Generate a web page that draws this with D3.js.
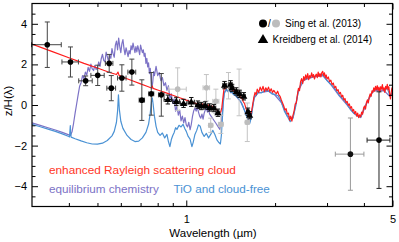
<!DOCTYPE html>
<html><head><meta charset="utf-8">
<script src="https://cdn.jsdelivr.net/npm/d3@7"></script>
<style>
html,body{margin:0;padding:0;background:#fff;}
svg{display:block;font-family:"Liberation Sans",Arial,Helvetica,sans-serif;}
</style></head><body>
<svg id="chart" width="399" height="242"></svg>
<script>
// ---------------- DATA ----------------
// model spectra: [wavelength (µm), z/H]
const redModel = [[0.30,3.00],[0.35,2.64],[0.40,2.33],[0.45,2.05],[0.50,1.82],[0.55,1.60],[0.58,1.50],[0.587,1.62],[0.592,1.46],[0.62,1.33],[0.66,1.18],[0.70,1.04],[0.74,0.91],[0.762,0.84],[0.767,0.93],[0.772,0.82],[0.80,0.74],[0.85,0.61],[0.90,0.48],[0.95,0.36],[1.00,0.24],[1.05,0.13],[1.08,0.07],
[1.10,0.04],[1.115,-0.06],[1.13,0.06],[1.145,-0.03],[1.16,0.05],[1.175,-0.08],[1.19,0.00],[1.205,-0.12],[1.22,-0.04],[1.235,-0.16],[1.25,-0.10],[1.265,-0.24],[1.28,-0.30],[1.295,-0.40],[1.31,-0.34],[1.32,-0.12],[1.33,0.30],[1.34,0.72],[1.35,0.95],[1.36,0.80],[1.37,1.02],[1.38,0.88],[1.39,1.05],[1.40,0.85],[1.41,0.98],[1.42,0.80],[1.43,0.90],[1.44,0.70],[1.455,0.78],[1.47,0.60],[1.485,0.66],[1.50,0.48],[1.515,0.52],[1.53,0.34],[1.545,0.38],[1.56,0.16],[1.575,0.08],[1.59,-0.12],[1.605,-0.28],[1.62,-0.42],[1.635,-0.58],[1.65,-0.52],[1.665,-0.30],[1.68,0.05],[1.695,0.38],[1.71,0.62],[1.725,0.50],[1.74,0.78],[1.76,0.62],[1.78,0.88],[1.80,0.70],[1.82,0.92],[1.84,0.66],[1.86,0.85],[1.88,0.72],[1.90,0.88],[1.92,0.66],[1.94,0.80],[1.96,0.62],[1.98,0.72],[2.00,0.62],[2.02,0.55],[2.04,0.68],[2.06,0.50],[2.08,0.42],[2.10,0.25],[2.12,0.10],[2.14,-0.05],[2.16,-0.25],[2.18,-0.18],[2.20,-0.45],[2.22,-0.40],[2.24,-0.75],[2.26,-0.55],[2.28,-0.80],[2.30,-0.50],[2.32,-0.30],[2.34,0.05],[2.36,0.10],[2.38,0.50],[2.40,0.82],[2.42,0.70],[2.44,1.15],[2.46,1.30],[2.48,1.05],[2.50,1.40],[2.52,1.22],[2.54,1.48],[2.56,1.30],[2.58,1.55],[2.60,1.25],[2.62,1.45],[2.64,1.35],[2.66,1.58],[2.68,1.38],[2.70,1.50],[2.72,1.28],[2.74,1.45],[2.76,1.52],[2.78,1.35],[2.80,1.62],[2.82,1.40],[2.84,1.55],[2.86,1.38],[2.88,1.60],[2.90,1.66],[2.92,1.45],[2.94,1.58],[2.96,1.35],[2.98,1.48],[3.00,1.28],[3.03,1.38],[3.06,1.15],[3.09,1.22],[3.12,1.00],[3.15,1.08],[3.18,0.85],[3.21,0.92],[3.24,0.70],[3.27,0.76],[3.30,0.55],[3.33,0.62],[3.36,0.40],[3.39,0.48],[3.42,0.25],[3.45,0.32],[3.48,0.12],[3.51,0.18],[3.54,-0.02],[3.57,0.05],[3.60,-0.15],[3.63,-0.08],[3.66,-0.30],[3.69,-0.22],[3.72,-0.42],[3.75,-0.32],[3.78,-0.55],[3.81,-0.40],[3.84,-0.62],[3.87,-0.48],[3.90,-0.58],[3.93,-0.35],[3.96,-0.45],[3.99,-0.15],[4.02,-0.05],[4.05,-0.20],[4.08,0.12],[4.11,0.25],[4.14,0.10],[4.17,0.40],[4.20,0.55],[4.23,0.42],[4.26,0.70],[4.29,0.62],[4.32,0.85],[4.35,0.68],[4.38,0.92],[4.41,0.75],[4.44,0.95],[4.47,0.72],[4.50,0.88],[4.53,0.65],[4.56,0.90],[4.59,0.78],[4.62,1.00],[4.65,0.72],[4.68,0.85],[4.71,0.62],[4.74,0.92],[4.77,0.80],[4.80,1.02],[4.83,0.75],[4.86,0.90],[4.89,0.55],[4.92,0.30],[4.95,0.62],[4.98,0.85],[5.00,0.70]];

const blueModel = [[0.30,-0.95],[0.32,-1.07],[0.34,-1.19],[0.36,-1.30],[0.38,-1.42],[0.40,-1.55],[0.402,-1.57],[0.4035,-1.25],[0.4045,-1.02],[0.4055,-1.30],[0.407,-1.58],[0.42,-1.66],[0.44,-1.77],[0.46,-1.86],[0.48,-1.92],[0.50,-1.93],[0.52,-1.88],[0.54,-1.75],[0.56,-1.52],[0.57,-1.30],[0.58,-0.85],[0.585,-0.30],[0.589,0.50],[0.593,-0.20],[0.60,-0.80],[0.61,-1.15],[0.63,-1.50],[0.65,-1.70],[0.67,-1.80],[0.69,-1.78],[0.71,-1.62],[0.73,-1.35],[0.745,-0.95],[0.755,-0.40],[0.762,0.15],[0.767,0.35],[0.772,0.05],[0.78,-0.55],[0.79,-1.05],[0.80,-1.35],[0.815,-1.50],[0.83,-1.38],[0.845,-1.62],[0.86,-1.45],[0.87,-1.80],[0.88,-2.05],[0.89,-1.70],[0.90,-1.50],[0.91,-1.35],[0.92,-1.12],[0.93,-1.20],[0.945,-1.00],[0.96,-1.08],[0.975,-0.95],[0.99,-1.18],[1.00,-1.30],[1.015,-1.55],[1.03,-1.68],[1.045,-2.05],[1.055,-1.85],[1.07,-1.45],[1.085,-1.25],[1.10,-0.98],[1.115,-1.05],[1.13,-1.35],[1.15,-1.55],[1.17,-1.40],[1.19,-1.62],[1.21,-1.45],[1.23,-1.25],[1.25,-1.45],[1.27,-1.72],[1.29,-1.85],[1.305,-1.92],[1.315,-1.50],[1.325,-0.70],[1.335,0.10],[1.345,0.55],[1.355,0.68],[1.37,0.78],[1.385,0.65],[1.40,0.72],[1.415,0.60],[1.43,0.68],[1.445,0.50],[1.46,0.55],[1.48,0.40],[1.50,0.35],[1.52,0.22],[1.54,0.10],[1.56,-0.10],[1.58,-0.32],[1.60,-0.55],[1.62,-0.75],[1.64,-0.92],[1.655,-0.70],[1.67,-0.35],[1.685,0.05],[1.70,0.40],[1.72,0.45],[1.75,0.62],[1.80,0.60],[1.85,0.72],[1.90,0.70],[1.95,0.55],[2.00,0.52],[2.05,0.45],[2.10,0.15],[2.15,-0.30],[2.20,-0.55],[2.25,-0.82],[2.30,-0.62],[2.35,-0.05],[2.40,0.72],[2.45,1.05],[2.50,1.25],[2.60,1.35],[2.70,1.40],[2.80,1.45],[2.90,1.50],[3.00,1.20],[3.10,1.00],[3.20,0.78],[3.30,0.48],[3.40,0.30],[3.50,0.05],[3.60,-0.22],[3.70,-0.40],[3.80,-0.55],[3.90,-0.60],[4.00,-0.20],[4.10,0.15],[4.20,0.45],[4.30,0.70],[4.40,0.78],[4.50,0.75],[4.60,0.82],[4.70,0.70],[4.80,0.85],[4.90,0.45],[5.00,0.62]];

const purpleModel = [[0.30,-0.88],[0.32,-1.00],[0.34,-1.12],[0.36,-1.23],[0.38,-1.35],[0.40,-1.47],[0.405,-1.50],[0.41,-1.32],[0.415,-0.90],[0.42,-0.40],[0.425,0.05],[0.43,0.50],[0.435,0.92],[0.44,1.10],[0.445,1.45],[0.45,1.30],[0.455,1.62],[0.46,1.48],[0.465,1.85],[0.47,1.66],[0.475,2.02],[0.48,1.78],[0.485,1.70],[0.49,1.95],[0.495,1.75],[0.50,1.84],[0.505,2.12],[0.51,1.90],[0.515,2.28],[0.52,2.50],[0.525,2.20],[0.53,2.12],[0.535,2.60],[0.54,2.38],[0.545,2.15],[0.55,2.45],[0.555,2.30],[0.56,2.78],[0.565,2.52],[0.57,2.35],[0.575,2.95],[0.58,3.15],[0.585,2.72],[0.59,3.30],[0.595,2.88],[0.60,2.58],[0.605,3.02],[0.61,3.22],[0.615,2.78],[0.62,2.48],[0.625,2.82],[0.63,2.62],[0.635,2.38],[0.64,2.68],[0.645,2.52],[0.65,2.92],[0.655,2.72],[0.66,3.05],[0.665,2.82],[0.67,2.58],[0.675,2.88],[0.68,2.62],[0.685,2.92],[0.69,2.72],[0.695,2.48],[0.70,2.95],[0.705,2.75],[0.71,2.58],[0.715,2.72],[0.72,2.40],[0.725,2.55],[0.73,2.05],[0.735,2.30],[0.74,1.88],[0.745,2.08],[0.75,1.55],[0.755,1.80],[0.76,1.30],[0.765,0.80],[0.77,1.15],[0.775,1.65],[0.78,1.45],[0.79,1.90],[0.80,1.45],[0.81,1.60],[0.82,1.20],[0.83,1.35],[0.84,0.95],[0.85,1.10],[0.86,0.72],[0.87,0.95],[0.88,0.30],[0.89,0.55],[0.90,0.08],[0.91,0.30],[0.92,-0.30],[0.93,-0.05],[0.94,-0.50],[0.95,-0.25],[0.96,-0.78],[0.97,-0.55],[0.98,-0.88],[0.99,-0.62],[1.00,-0.98],[1.01,-1.08],[1.02,-0.85],[1.03,-1.22],[1.04,-0.95],[1.05,-0.55],[1.06,-0.28],[1.07,-0.15],[1.08,-0.30],[1.09,-0.10],[1.10,-0.35],[1.11,-0.55],[1.12,-0.65],[1.13,-0.45],[1.14,-0.70],[1.15,-0.40],[1.16,-0.25],[1.17,-0.15],[1.18,-0.35],[1.19,-0.20],[1.20,-0.45],[1.22,-0.60],[1.24,-0.75],[1.26,-0.90],[1.28,-1.05],[1.30,-1.20],[1.315,-0.90],[1.325,-0.40],[1.335,0.25],[1.345,0.60],[1.36,0.72],[1.38,0.70],[1.40,0.76],[1.42,0.62],[1.44,0.58],[1.46,0.50],[1.48,0.42],[1.50,0.30],[1.53,0.15],[1.56,-0.12],[1.59,-0.40],[1.62,-0.70],[1.64,-0.85],[1.66,-0.55],[1.68,-0.05],[1.70,0.35],[1.75,0.60],[1.80,0.62],[1.90,0.68],[2.00,0.48],[2.10,0.12],[2.20,-0.55],[2.30,-0.65],[2.40,0.70],[2.50,1.22],[2.70,1.38],[2.90,1.45],[3.10,0.98],[3.30,0.45],[3.50,0.02],[3.70,-0.42],[3.90,-0.62],[4.10,0.12],[4.30,0.68],[4.50,0.72],[4.70,0.68],[4.90,0.42],[5.00,0.60]];

// observations: [wavelength, half-width, z/H, error]
const singBlack = [[0.338,0.039,2.97,1.12],[0.405,0.026,2.12,0.74],[0.456,0.024,1.19,0.24],[0.501,0.026,1.46,0.50],[0.548,0.016,2.05,0.44],[0.557,0.019,0.83,0.62],[0.605,0.020,1.33,0.65],[0.654,0.020,1.62,0.64],[0.707,0.015,0.24,1.00],[0.761,0.015,0.55,1.05],[0.823,0.018,0.50,1.05]];
const singGray = [[0.935,0.065,0.78,1.05],[1.17,0.030,0.85,0.65],[1.21,0.020,-1.00,0.35],[1.26,0.030,0.18,0.60],[1.31,0.025,-0.95,0.45],[1.39,0.025,0.95,0.65],[1.51,0.025,0.62,1.15],[1.61,0.025,-0.85,0.95]];
const kreidberg = [[0.866,0.025,0.27,0.22],[0.925,0.025,0.18,0.20],[0.979,0.025,0.08,0.20],[1.04,0.025,0.15,0.22],[1.095,0.018,0.02,0.18],[1.124,0.018,-0.05,0.18],[1.16,0.018,-0.02,0.18],[1.20,0.018,-0.12,0.18],[1.24,0.018,-0.15,0.18],[1.28,0.018,-0.38,0.18],[1.348,0.018,0.98,0.18],[1.413,0.018,1.02,0.18],[1.43,0.018,0.84,0.18],[1.477,0.018,0.67,0.18],[1.516,0.018,0.55,0.18],[1.567,0.018,0.43,0.18],[1.618,0.018,-0.33,0.18],[1.64,0.018,-0.50,0.18]];
const spitzer36 = [[3.6,0.4,-2.42,1.78]];
const spitzer45 = [[4.5,0.4,-1.73,2.38]];

const xMajorTicks = [1,5];
const xMinorTicks = [0.4,0.5,0.6,0.7,0.8,0.9,2,3,4];
const yMajorTicks = [-4,-2,0,2,4];
const yMinorTicks = [-4.5,-3.5,-3,-2.5,-1.5,-1,-0.5,0.5,1,1.5,2.5,3,3.5,4.5];

// ---------------- CHART ----------------
const svg = d3.select("#chart");
const m = {left:32, right:392.5, top:3.5, bottom:206.5};
const x = d3.scaleLog().domain([0.3,5]).range([m.left,m.right]);
const y = d3.scaleLinear().domain([-5,5]).range([m.bottom,m.top]);

const colRed = "#ff1c1c", colBlue = "#4a92d4", colPurple = "#7c72c6";

svg.append("clipPath").attr("id","clip").append("rect")
  .attr("x",m.left).attr("y",m.top).attr("width",m.right-m.left).attr("height",m.bottom-m.top);

const line = d3.line().x(d=>x(d[0])).y(d=>y(d[1]));
const lines = svg.append("g").attr("clip-path","url(#clip)");
[[purpleModel,colPurple],[blueModel,colBlue],[redModel,colRed]].forEach(([data,c])=>{
  lines.append("path").datum(data).attr("d",line)
    .attr("fill","none").attr("stroke",c).attr("stroke-width",1.2).attr("stroke-linejoin","round");
});

function errorBars(data, barColor, cap){
  const g = svg.append("g").attr("stroke",barColor).attr("stroke-width",1).attr("fill","none");
  data.forEach(d=>{
    const cx = x(d[0]), cy = y(d[2]);
    const x0 = x(d[0]-d[1]), x1 = x(d[0]+d[1]);
    const y0 = y(d[2]-d[3]), y1 = y(d[2]+d[3]);
    g.append("line").attr("x1",cx).attr("x2",cx).attr("y1",y0).attr("y2",y1);
    g.append("line").attr("x1",cx-cap).attr("x2",cx+cap).attr("y1",y0).attr("y2",y0);
    g.append("line").attr("x1",cx-cap).attr("x2",cx+cap).attr("y1",y1).attr("y2",y1);
    g.append("line").attr("x1",x0).attr("x2",x1).attr("y1",cy).attr("y2",cy);
    g.append("line").attr("x1",x0).attr("x2",x0).attr("y1",cy-cap).attr("y2",cy+cap);
    g.append("line").attr("x1",x1).attr("x2",x1).attr("y1",cy-cap).attr("y2",cy+cap);
  });
}

// gray points
errorBars(singGray, "#c4c4c4", 2.5);
svg.append("g").selectAll("circle").data(singGray).join("circle")
  .attr("cx",d=>x(d[0])).attr("cy",d=>y(d[2])).attr("r",2.8).attr("fill","#bdbdbd");
errorBars(spitzer36, "#999999", 2.5);
svg.append("g").selectAll("circle").data(spitzer36).join("circle")
  .attr("cx",d=>x(d[0])).attr("cy",d=>y(d[2])).attr("r",2.8).attr("fill","#111");

// black points
errorBars(singBlack, "#444", 2.5);
svg.append("g").selectAll("circle").data(singBlack).join("circle")
  .attr("cx",d=>x(d[0])).attr("cy",d=>y(d[2])).attr("r",2.8).attr("fill","#000");
errorBars(spitzer45, "#222", 2.5);
svg.append("g").selectAll("circle").data(spitzer45).join("circle")
  .attr("cx",d=>x(d[0])).attr("cy",d=>y(d[2])).attr("r",2.8).attr("fill","#000");

// triangles
errorBars(kreidberg, "#111", 2.2);
const tri = d3.symbol(d3.symbolTriangle).size(22);
svg.append("g").selectAll("path").data(kreidberg).join("path")
  .attr("d",tri).attr("transform",d=>`translate(${x(d[0])},${y(d[2])+0.5})`).attr("fill","#000");

// axes
const fmt = d3.format("d");
function styleAxis(g){ g.select(".domain").remove(); g.selectAll("line").attr("stroke","#000"); g.selectAll("text").attr("font-size","11px").attr("fill","#000").style("font-family",'"Liberation Sans",Arial,sans-serif'); }
svg.append("g").attr("transform",`translate(0,${m.bottom})`)
  .call(d3.axisBottom(x).tickValues(xMajorTicks).tickSize(-6).tickPadding(9).tickFormat(fmt)).call(styleAxis);
svg.append("g").attr("transform",`translate(0,${m.bottom})`)
  .call(d3.axisBottom(x).tickValues(xMinorTicks).tickSize(-3.5).tickFormat("")).call(styleAxis);
svg.append("g").attr("transform",`translate(0,${m.top})`)
  .call(d3.axisTop(x).tickValues(xMajorTicks).tickSize(-6).tickFormat("")).call(styleAxis);
svg.append("g").attr("transform",`translate(0,${m.top})`)
  .call(d3.axisTop(x).tickValues(xMinorTicks).tickSize(-3.5).tickFormat("")).call(styleAxis);
svg.append("g").attr("transform",`translate(${m.left},0)`)
  .call(d3.axisLeft(y).tickValues(yMajorTicks).tickSize(-6).tickPadding(5).tickFormat(d3.format("d"))).call(styleAxis);
svg.append("g").attr("transform",`translate(${m.left},0)`)
  .call(d3.axisLeft(y).tickValues(yMinorTicks).tickSize(-3.5).tickFormat("")).call(styleAxis);
svg.append("g").attr("transform",`translate(${m.right},0)`)
  .call(d3.axisRight(y).tickValues(yMajorTicks).tickSize(-6).tickFormat("")).call(styleAxis);
svg.append("g").attr("transform",`translate(${m.right},0)`)
  .call(d3.axisRight(y).tickValues(yMinorTicks).tickSize(-3.5).tickFormat("")).call(styleAxis);

svg.append("rect").attr("x",m.left).attr("y",m.top).attr("width",m.right-m.left).attr("height",m.bottom-m.top)
  .attr("fill","none").attr("stroke","#000").attr("stroke-width",1.2);

// axis titles
svg.append("text").attr("x",213).attr("y",237).attr("text-anchor","middle")
  .attr("font-size","11.5px").attr("fill","#000").text("Wavelength (µm)");
svg.append("text").attr("transform","translate(12,101) rotate(-90)").attr("text-anchor","middle")
  .attr("font-size","11.5px").attr("fill","#000").text("z/H(λ)");

// annotations
svg.append("text").attr("x",49).attr("y",174).attr("font-size","11.8px").attr("fill","#ff3526").text("enhanced Rayleigh scattering cloud");
svg.append("text").attr("x",49).attr("y",192.5).attr("font-size","11.7px").attr("fill",colPurple).text("equilibrium chemistry");
svg.append("text").attr("x",173.5).attr("y",192.5).attr("font-size","11.7px").attr("fill",colBlue).text("TiO and cloud-free");

// legend
svg.append("circle").attr("cx",263).attr("cy",23.5).attr("r",4).attr("fill","#000");
svg.append("text").attr("x",269.5).attr("y",27.3).attr("text-anchor","middle").attr("font-size","10px").attr("fill","#000").text("/");
svg.append("circle").attr("cx",276).attr("cy",23.5).attr("r",4).attr("fill","#bdbdbd");
svg.append("text").attr("x",285).attr("y",27).attr("font-size","10px").attr("fill","#000").text("Sing et al. (2013)");
svg.append("path").attr("d",d3.symbol(d3.symbolTriangle).size(48)).attr("transform","translate(263,40)").attr("fill","#000");
svg.append("text").attr("x",272.5).attr("y",42.8).attr("font-size","10px").attr("fill","#000").text("Kreidberg et al. (2014)");
</script>
</body></html>
